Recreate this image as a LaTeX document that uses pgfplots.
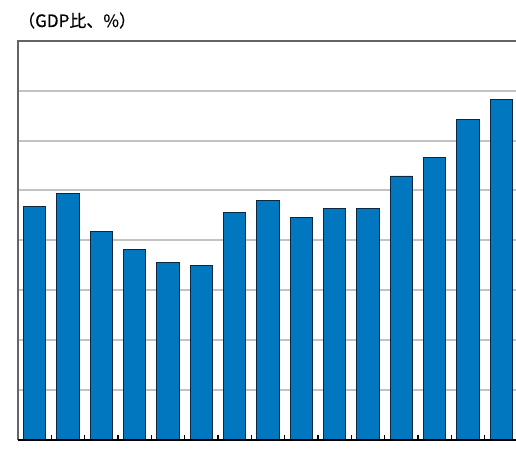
\documentclass[border=0pt]{standalone}
\usepackage{pgfplots}
\pgfplotsset{compat=1.18}
\usepackage{fontspec}
\newfontfamily\cjk[FakeBold=0.4]{Noto Sans CJK JP}
\definecolor{barblue}{RGB}{0,119,190}
\definecolor{baredge}{RGB}{10,40,65}
\definecolor{gridgray}{RGB}{195,195,195}
\definecolor{framegray}{RGB}{100,100,100}
\begin{document}
\begin{tikzpicture}[x=1pt,y=1pt]
% unit label above the plot
\node[anchor=base west, inner sep=0pt, font=\cjk\fontsize{17}{20}\selectfont] at (18,421) {（GDP比、\%）};
\begin{axis}[
  at={(18pt,8pt)}, anchor=south west,
  scale only axis,
  width=500pt, height=399.3pt,
  xmin=0, xmax=15, ymin=0, ymax=8,
  xtick={0,1,...,15}, xticklabels={},
  ytick={0,1,...,8}, yticklabels={},
  xtick pos=bottom, tick align=inside,
  major tick length=5pt,
  x tick style={black, line width=1.5pt},
  y tick style={draw=none},
  ymajorgrids, grid style={gridgray, line width=2pt},
  axis line style={draw=none},
  clip=false,
]
\addplot[ybar, bar width=22.3pt, fill=barblue, draw=baredge, line width=0.9pt]
  coordinates {
  (0.5,4.68) (1.5,4.93) (2.5,4.17) (3.5,3.81) (4.5,3.56)
  (5.5,3.50) (6.5,4.56) (7.5,4.80) (8.5,4.45) (9.5,4.64)
  (10.5,4.64) (11.5,5.29) (12.5,5.67) (13.5,6.42) (14.5,6.83)
  };
% frame: grey left and top, black baseline
\draw[framegray, line width=2pt] (rel axis cs:0,0) -- (rel axis cs:0,1) -- (rel axis cs:1,1);
\draw[black, line width=2pt] (rel axis cs:0,0) -- (rel axis cs:1,0);
\end{axis}
\pgfresetboundingbox
\useasboundingbox (0,0) rectangle (516,448);
\end{tikzpicture}
\end{document}
